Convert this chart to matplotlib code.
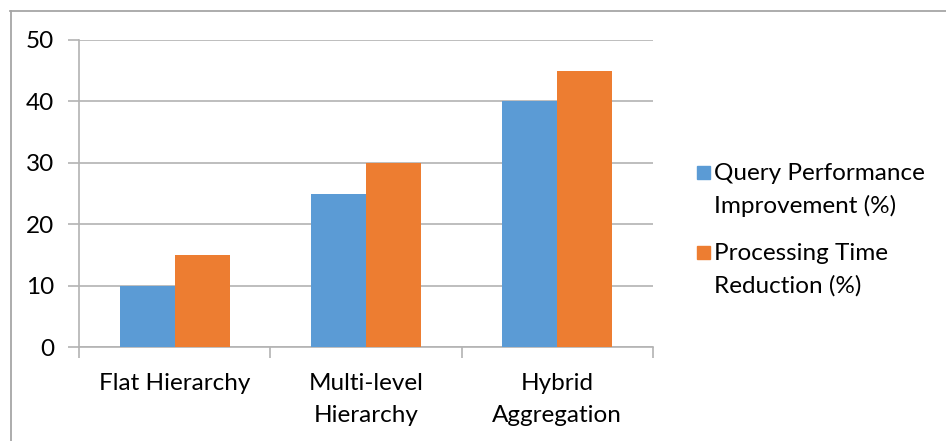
import numpy as np
import matplotlib.pyplot as plt
from matplotlib.lines import Line2D
from matplotlib.patches import Rectangle

categories = ["Flat Hierarchy", "Multi-level\nHierarchy", "Hybrid\nAggregation"]
series_names = ["Query Performance\nImprovement (%)", "Processing Time\nReduction (%)"]
query_improvement = [10, 25, 40]
time_reduction = [15, 30, 45]
colors = ["#5B9BD5", "#ED7D31"]

plt.rcParams['font.family'] = ['Lato', 'DejaVu Sans']
FS = 17.5
LS = 1.62
GRID = "#B3B3B3"

fig = plt.figure(figsize=(9.46, 4.41), dpi=100)
ax = fig.add_axes([79 / 946, 1 - 347 / 441, (653 - 79) / 946, (347 - 40) / 441])

x = np.arange(len(categories))
w = 0.287
ax.bar(x - w / 2, query_improvement, w, color=colors[0], zorder=3)
ax.bar(x + w / 2, time_reduction, w, color=colors[1], zorder=3)

ax.set_xlim(-0.5, len(categories) - 0.5)
ax.set_ylim(0, 50)
ax.set_yticks(range(0, 51, 10))
ax.yaxis.grid(True, color=GRID, linewidth=1.2, zorder=0)

for side in ["top", "right"]:
    ax.spines[side].set_visible(False)
for side in ["left", "bottom"]:
    ax.spines[side].set_color(GRID)
    ax.spines[side].set_linewidth(1.2)

ax.set_xticks(x)
ax.set_xticklabels(categories, fontsize=FS, linespacing=LS)
ax.set_xticks(np.arange(-0.5, len(categories), 1), minor=True)
ax.tick_params(axis="x", which="major", length=0, pad=19)
ax.tick_params(axis="x", which="minor", length=8, width=1.2, color=GRID, direction="out")
ax.tick_params(axis="y", length=8, width=1.2, color=GRID, labelsize=FS, pad=10)

# legend on the right, square swatch next to the first line of each entry
for i, (name, c) in enumerate(zip(series_names, colors)):
    top = 160 + i * 80
    fig.patches.append(Rectangle((697 / 946, 1 - (top + 19) / 441), 13 / 946, 13 / 441,
                                 transform=fig.transFigure, color=c))
    fig.text(714 / 946, 1 - (top + 3) / 441, name, fontsize=FS, va="top", ha="left",
             linespacing=LS)

# chart area outline
fig.add_artist(Line2D([10 / 946, 1], [1 - 10.5 / 441] * 2, color="#A6A6A6", lw=1.3))
fig.add_artist(Line2D([10.5 / 946] * 2, [0, 1 - 10.5 / 441], color="#A6A6A6", lw=1.3))

fig.savefig("out.png", dpi=100)
